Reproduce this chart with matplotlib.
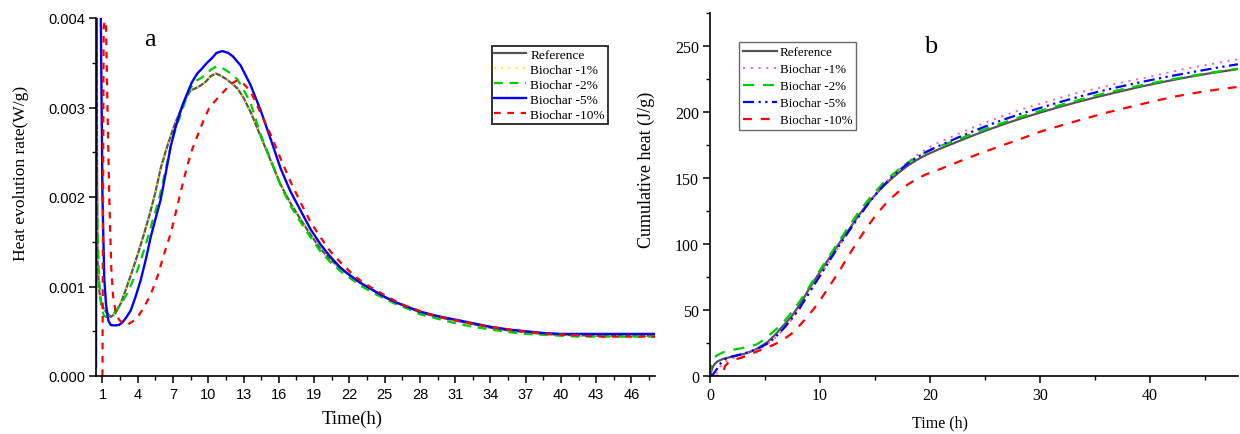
import matplotlib
matplotlib.use('Agg')
import matplotlib.pyplot as plt
from matplotlib.ticker import MultipleLocator, FixedLocator, FormatStrFormatter

# ---------------- panel a: heat evolution rate (W/g) ----------------
ref_a_t = [0.45, 0.5, 0.58, 0.7, 0.86, 1.0, 1.28, 1.7, 2.1, 2.55, 3.0, 3.55, 4.0, 4.54, 5.0, 5.5,
           5.95, 6.4, 6.8, 7.2, 7.65, 8.1, 8.5, 9.0, 9.4, 9.8, 10.2, 10.63, 11.0, 11.5, 12.0, 12.5,
           13.0, 13.6, 14.45, 15.3, 16.15, 17.0, 17.85, 18.7, 19.55, 20.4, 21.25, 22.1, 22.95, 24.0,
           24.9, 26.0, 27.0, 28.0, 29.5, 31.0, 32.5, 34.0, 35.5, 37.0, 38.5, 40.0, 41.5, 43.0, 44.5,
           46.0, 48.0]
ref_a_v = [0.0065, 0.0038, 0.0013, 0.00098, 0.00084, 0.00078, 0.00072, 0.00066, 0.00070, 0.00081,
           0.00097, 0.00118, 0.00136, 0.00159, 0.00180, 0.00205, 0.00232, 0.00252, 0.00268, 0.00283,
           0.00297, 0.00311, 0.00319, 0.00322, 0.00325, 0.00329, 0.00335, 0.00338, 0.00336, 0.00332,
           0.00327, 0.00321, 0.00311, 0.00295, 0.00268, 0.00241, 0.00214, 0.00193, 0.00175, 0.00158,
           0.00142, 0.00130, 0.00120, 0.00112, 0.00104, 0.00096, 0.00089, 0.00082, 0.00077, 0.00071,
           0.00066, 0.00062, 0.00058, 0.00054, 0.00051, 0.00049, 0.00047, 0.00046, 0.000455, 0.00045,
           0.00045, 0.00045, 0.00045]

b1_a_t = ref_a_t
b1_a_v = [0.0065, 0.0038, 0.0013, 0.00097, 0.00083, 0.00077, 0.00071, 0.00066, 0.00070, 0.00081,
          0.00097, 0.00118, 0.00136, 0.00159, 0.00180, 0.00205, 0.00232, 0.00252, 0.00268, 0.00283,
          0.00297, 0.00311, 0.00319, 0.00322, 0.00325, 0.00329, 0.00335, 0.00338, 0.00336, 0.00332,
          0.00327, 0.00321, 0.00311, 0.00295, 0.00268, 0.00241, 0.00214, 0.00193, 0.00175, 0.00158,
          0.00142, 0.00130, 0.00120, 0.00112, 0.00104, 0.00096, 0.00089, 0.00082, 0.00077, 0.00071,
          0.00066, 0.00062, 0.00058, 0.00054, 0.00051, 0.00049, 0.00047, 0.00046, 0.000455, 0.00045,
          0.00045, 0.00045, 0.00045]

b2_a_t = [0.45, 0.55, 0.7, 0.9, 1.14, 1.3, 1.7, 2.1, 2.6, 3.1, 3.5, 3.97, 4.4, 4.8, 5.3, 5.8, 6.3,
          6.8, 7.2, 7.65, 8.1, 8.5, 9.0, 9.4, 9.8, 10.2, 10.7, 11.2, 11.7, 12.2, 12.5, 13.0, 13.6,
          14.45, 15.3, 16.15, 17.0, 17.85, 18.7, 19.55, 20.4, 21.25, 22.1, 22.95, 24.0, 24.9, 26.0,
          27.0, 28.0, 29.5, 31.0, 32.5, 34.0, 35.5, 37.0, 38.5, 40.0, 41.5, 43.0, 44.5, 46.0, 48.0]
b2_a_v = [0.0028, 0.0018, 0.0011, 0.00076, 0.00067, 0.00066, 0.00067, 0.00072, 0.00081, 0.00092,
          0.00104, 0.00118, 0.00135, 0.00152, 0.00175, 0.00197, 0.00226, 0.00257, 0.00275, 0.00292,
          0.00309, 0.00322, 0.00330, 0.00333, 0.00337, 0.00342, 0.00346, 0.00344, 0.00340, 0.00335,
          0.00331, 0.00320, 0.00305, 0.00270, 0.00242, 0.00213, 0.00190, 0.00172, 0.00155, 0.00139,
          0.00127, 0.00117, 0.00109, 0.00101, 0.00093, 0.00087, 0.00080, 0.00075, 0.00069, 0.00064,
          0.00059, 0.00055, 0.00052, 0.00049, 0.00047, 0.00046, 0.00045, 0.00044, 0.00044, 0.00044,
          0.00044, 0.00044]

b5_a_t = [0.45, 0.5, 0.7, 0.86, 1.0, 1.15, 1.3, 1.5, 1.7, 2.0, 2.4, 2.7, 3.0, 3.4, 3.8, 4.25, 4.7,
          5.1, 5.5, 5.95, 6.4, 6.8, 7.15, 7.5, 7.85, 8.22, 8.6, 9.07, 9.5, 9.9, 10.3, 10.7, 11.2,
          11.7, 12.1, 12.75, 13.6, 14.45, 15.3, 16.15, 17.0, 17.85, 18.7, 19.55, 20.4, 21.25, 22.1,
          22.95, 24.0, 24.9, 26.0, 27.0, 28.0, 29.5, 31.0, 32.5, 34.0, 35.5, 37.0, 38.5, 40.0, 41.5,
          43.0, 44.5, 46.0, 48.0]
b5_a_v = [0.0001, 0.0050, 0.0060, 0.0040, 0.0020, 0.0011, 0.00080, 0.00062, 0.00057, 0.000565,
          0.00057, 0.00060, 0.00065, 0.00073, 0.00088, 0.00107, 0.00131, 0.00155, 0.00175, 0.00197,
          0.00228, 0.00256, 0.00275, 0.00290, 0.00304, 0.00316, 0.00328, 0.00338, 0.00344, 0.00350,
          0.00355, 0.00361, 0.00363, 0.00361, 0.00357, 0.00347, 0.00325, 0.00297, 0.00265, 0.00232,
          0.00206, 0.00185, 0.00164, 0.00147, 0.00133, 0.00121, 0.00112, 0.00104, 0.00096, 0.00089,
          0.00082, 0.00077, 0.00072, 0.00067, 0.00063, 0.00059, 0.00055, 0.00052, 0.00050, 0.00048,
          0.00047, 0.00047, 0.00047, 0.00047, 0.00047, 0.00047]

b10_a_t = [1.0, 1.05, 1.1, 1.2, 1.3, 1.4, 1.5, 1.6, 1.75, 1.9, 2.1, 2.4, 2.8, 3.2, 3.7, 4.1, 4.54,
           4.9, 5.25, 5.7, 6.1, 6.45, 6.8, 7.15, 7.5, 7.85, 8.2, 8.6, 9.07, 9.55, 10.06, 10.5, 10.9,
           11.4, 11.9, 12.4, 12.9, 13.6, 14.45, 15.3, 16.15, 17.0, 17.85, 18.7, 19.55, 20.4, 21.25,
           22.1, 23.0, 24.1, 25.2, 26.3, 27.5, 28.8, 30.0, 31.5, 33.0, 34.5, 36.0, 37.5, 39.0, 40.5,
           42.0, 43.5, 45.0, 46.5, 48.0]
b10_a_v = [0.0, 0.0020, 0.0039, 0.00397, 0.0039, 0.0032, 0.0025, 0.0019, 0.0012, 0.00090, 0.00073,
           0.00063, 0.00058, 0.00058, 0.00062, 0.00068, 0.00077, 0.00086, 0.00096, 0.00112, 0.00130,
           0.00145, 0.00159, 0.00178, 0.00197, 0.00216, 0.00234, 0.00252, 0.00268, 0.00284, 0.00299,
           0.00306, 0.00312, 0.00319, 0.00326, 0.00330, 0.00328, 0.00318, 0.00294, 0.00270, 0.00243,
           0.00217, 0.00194, 0.00172, 0.00155, 0.00139, 0.00127, 0.00116, 0.00106, 0.00097, 0.00089,
           0.00081, 0.00075, 0.00069, 0.00065, 0.00061, 0.00057, 0.00054, 0.00051, 0.00049, 0.00047,
           0.00046, 0.00045, 0.00044, 0.00044, 0.00044, 0.00044]

# ---------------- panel b: cumulative heat (J/g) ----------------
ref_b_t = [0, 0.15, 0.3, 0.5, 0.76, 1.2, 2.1, 3.0, 3.65, 4.3, 5.2, 5.9, 6.7, 7.4, 8.2, 8.9, 9.7,
           10.5, 11.25, 12.0, 12.77, 13.5, 14.3, 15.0, 15.8, 16.5, 17.3, 18.0, 18.86, 19.6, 20.4,
           21.0, 22.5, 24.0, 25.5, 27.07, 28.5, 30.0, 31.5, 33.15, 35.0, 37.0, 39.2, 41.5, 43.5,
           45.5, 48.0]
ref_b_v = [0, 4.5, 7.6, 9.8, 11.4, 13.0, 14.8, 16.5, 18.3, 20.8, 25.5, 31.0, 38.5, 45.0, 54.5,
           64.5, 75.0, 85.0, 94.5, 103.5, 112.6, 121.5, 130.0, 137.0, 144.2, 149.5, 155.0, 159.5,
           164.0, 167.3, 170.3, 172.5, 177.5, 182.5, 187.2, 191.8, 195.7, 199.5, 203.2, 207.0,
           211.0, 215.0, 219.3, 223.3, 226.5, 229.4, 232.5]

b1_b_t = [0, 0.5, 0.7, 0.9, 1.3, 2.1, 3.0, 3.65, 4.3, 5.2, 5.9, 6.7, 7.4, 8.2, 8.9, 9.7, 10.5,
          11.25, 12.0, 12.77, 13.5, 14.3, 15.0, 15.8, 16.5, 17.3, 18.0, 18.86, 19.6, 20.4, 21.0,
          22.2, 24.0, 26.3, 28.5, 31.5, 33.2, 35.0, 37.5, 39.84, 42.9, 45.0, 47.6, 48.0]
b1_b_v = [0, 0, 3.0, 6.6, 10.5, 13.5, 16.0, 18.0, 20.0, 24.0, 28.5, 35.5, 42.5, 51.5, 61.0, 71.5,
          82.0, 92.0, 101.5, 111.0, 120.3, 129.5, 137.2, 145.0, 151.3, 157.5, 162.3, 167.5, 171.5,
          175.3, 177.8, 182.0, 188.5, 196.0, 202.5, 209.9, 214.0, 217.5, 222.5, 226.4, 232.2,
          235.5, 239.3, 240.0]

b2_b_t = [0, 0.1, 0.3, 0.6, 1.2, 2.0, 2.7, 3.5, 4.26, 4.9, 5.47, 6.1, 6.7, 7.4, 8.2, 8.9, 9.7, 10.5,
          11.25, 12.0, 12.77, 13.5, 14.3, 15.0, 15.8, 16.5, 17.3, 18.0, 18.86, 19.6, 20.4, 21.0,
          22.5, 24.0, 25.5, 27.07, 28.5, 30.0, 31.5, 33.15, 35.0, 37.0, 39.2, 41.5, 43.5, 45.5, 48.0]
b2_b_v = [0, 8.0, 12.7, 15.5, 18.0, 19.8, 20.8, 22.2, 24.0, 27.5, 31.6, 36.0, 41.0, 48.0, 57.0,
          66.0, 76.5, 86.5, 96.0, 105.5, 115.0, 124.0, 132.5, 139.5, 146.5, 152.0, 157.5, 161.8,
          166.0, 169.5, 172.5, 174.5, 179.0, 184.0, 188.5, 193.0, 197.0, 200.8, 204.5, 208.3,
          212.3, 216.3, 220.3, 224.0, 227.0, 229.8, 232.8]

b5_b_t = [0, 0.3, 0.6, 1.0, 1.5, 2.1, 3.0, 3.65, 4.3, 5.2, 5.9, 6.7, 7.4, 8.2, 8.9, 9.7, 10.5,
          11.25, 12.0, 12.77, 13.5, 14.3, 15.0, 15.8, 16.5, 17.3, 18.0, 18.86, 19.6, 20.4, 21.0,
          22.5, 24.0, 25.85, 27.07, 28.5, 30.1, 31.5, 33.15, 35.28, 37.0, 39.5, 41.5, 44.1, 46.0,
          48.0]
b5_b_v = [0, 1.5, 5.0, 10.0, 13.5, 15.0, 16.8, 18.5, 20.5, 24.5, 29.0, 36.0, 43.0, 52.0, 61.5,
          72.0, 82.5, 92.5, 102.0, 111.5, 120.5, 129.5, 137.0, 144.5, 150.5, 156.5, 161.0, 165.8,
          169.5, 172.8, 175.0, 180.5, 185.7, 191.7, 195.3, 199.3, 203.3, 206.8, 210.7, 215.3,
          218.7, 223.2, 226.6, 230.6, 233.4, 236.2]

b10_b_t = [0, 1.0, 1.2, 1.37, 1.7, 2.1, 2.9, 3.65, 4.4, 5.2, 6.0, 6.7, 7.4, 7.9, 8.6, 9.3, 9.73,
           10.5, 11.25, 11.9, 12.47, 13.0, 13.5, 14.3, 15.0, 15.8, 16.5, 17.3, 18.0, 18.86, 19.6,
           20.4, 21.0, 22.2, 23.4, 24.9, 26.5, 28.2, 30.1, 32.0, 34.0, 36.2, 38.0, 40.0, 42.3, 44.5,
           46.3, 48.0]
b10_b_v = [0, 0, 3.0, 7.5, 10.5, 12.0, 14.0, 16.5, 19.0, 21.5, 24.5, 27.8, 32.0, 36.0, 42.5, 49.5,
           54.0, 63.5, 73.0, 81.5, 89.5, 96.5, 103.0, 113.0, 121.0, 129.0, 135.0, 140.8, 145.2,
           149.6, 152.6, 155.2, 157.0, 161.0, 165.0, 169.7, 174.5, 179.5, 185.3, 190.0, 194.8,
           199.8, 203.5, 207.5, 211.8, 215.0, 217.2, 219.0]

labels = ['Reference', 'Biochar -1%', 'Biochar -2%', 'Biochar -5%', 'Biochar -10%']

serif = ['Liberation Serif', 'DejaVu Serif']
sans = ['Liberation Sans', 'DejaVu Sans']

fig = plt.figure(figsize=(12.4, 4.35), dpi=100)
ax1 = fig.add_axes([96 / 1240, 58 / 435, 559 / 1240, 358 / 435])
ax2 = fig.add_axes([710 / 1240, 58 / 435, 528 / 1240, 363 / 435])

# panel a
ax1.plot(ref_a_t, ref_a_v, color='#555555', lw=1.6, label=labels[0])
ax1.plot(b1_a_t, b1_a_v, color='#f5f000', lw=1.3, linestyle=(0, (1, 3)), label=labels[1])
ax1.plot(b2_a_t, b2_a_v, color='#00cc00', lw=1.6, linestyle=(0, (4, 3)), label=labels[2])
ax1.plot(b5_a_t, b5_a_v, color='#0000ff', lw=1.7, label=labels[3])
ax1.plot(b10_a_t, b10_a_v, color='#ff0000', lw=1.6, linestyle=(0, (3, 3)), label=labels[4])

ax1.set_xlim(0.45, 48)
ax1.set_ylim(0, 0.004)
ax1.xaxis.set_major_locator(FixedLocator(list(range(1, 47, 3))))
ax1.xaxis.set_minor_locator(FixedLocator([x + 1.5 for x in range(1, 47, 3)]))
ax1.yaxis.set_major_locator(MultipleLocator(0.001))
ax1.yaxis.set_minor_locator(MultipleLocator(0.0005))
ax1.yaxis.set_major_formatter(FormatStrFormatter('%.3f'))
ax1.tick_params(which='both', labelfontfamily=sans, labelsize=10.5)
ax1.set_xlabel('Time(h)', family=serif, fontsize=13.5)
ax1.set_ylabel('Heat evolution rate(W/g)', family=serif, fontsize=12.5)
ax1.xaxis.set_label_coords(0.458, -0.093)
ax1.yaxis.set_label_coords(-0.12, 0.57)
ax1.text(0.097, 0.941, 'a', transform=ax1.transAxes, family=serif, fontsize=19,
         ha='center', va='center')
leg1 = ax1.legend(loc='upper left', bbox_to_anchor=(0.708, 0.922), borderaxespad=0,
                  prop={'family': serif, 'size': 9.6}, frameon=True, fancybox=False,
                  handlelength=2.35, handletextpad=0.35, labelspacing=0.2, borderpad=0.2)
leg1.get_frame().set_edgecolor('black')
leg1.get_frame().set_linewidth(1.4)

# panel b
ax2.plot(ref_b_t, ref_b_v, color='#555555', lw=1.6, label=labels[0])
ax2.plot(b1_b_t, b1_b_v, color='#ff55bb', lw=1.4, linestyle=(0, (1, 3)), label=labels[1])
ax2.plot(b2_b_t, b2_b_v, color='#00cc00', lw=1.6, linestyle=(0, (5, 4)), label=labels[2])
ax2.plot(b5_b_t, b5_b_v, color='#0000ff', lw=1.6, linestyle=(0, (5, 2, 1, 2, 1, 2)), label=labels[3])
ax2.plot(b10_b_t, b10_b_v, color='#ff0000', lw=1.6, linestyle=(0, (4, 4)), label=labels[4])

ax2.set_xlim(0, 48)
ax2.set_ylim(0, 275)
ax2.xaxis.set_major_locator(MultipleLocator(10))
ax2.xaxis.set_minor_locator(MultipleLocator(5))
ax2.yaxis.set_major_locator(MultipleLocator(50))
ax2.yaxis.set_minor_locator(MultipleLocator(25))
ax2.tick_params(which='both', labelfontfamily=serif, labelsize=11.5)
ax2.set_xlabel('Time (h)', family=serif, fontsize=11.5)
ax2.set_ylabel('Cumulative heat (J/g)', family=serif, fontsize=13)
ax2.xaxis.set_label_coords(0.436, -0.105)
ax2.yaxis.set_label_coords(-0.105, 0.57)
ax2.text(0.417, 0.909, 'b', transform=ax2.transAxes, family=serif, fontsize=19,
         ha='center', va='center')
leg2 = ax2.legend(loc='upper left', bbox_to_anchor=(0.055, 0.92), borderaxespad=0,
                  prop={'family': serif, 'size': 9.4}, frameon=True, fancybox=False,
                  handlelength=2.6, handletextpad=0.2, labelspacing=0.38, borderpad=0.3)
leg2.get_frame().set_edgecolor('#444444')
leg2.get_frame().set_linewidth(1.0)

for ax in (ax1, ax2):
    ax.spines['top'].set_visible(False)
    ax.spines['right'].set_visible(False)
    ax.spines['left'].set_linewidth(1.2)
    ax.spines['bottom'].set_linewidth(1.2)
    ax.tick_params(which='major', direction='out', length=5, width=1.1, pad=3)
    ax.tick_params(which='minor', direction='out', length=3, width=1.0)

fig.savefig('out.png', dpi=100)
